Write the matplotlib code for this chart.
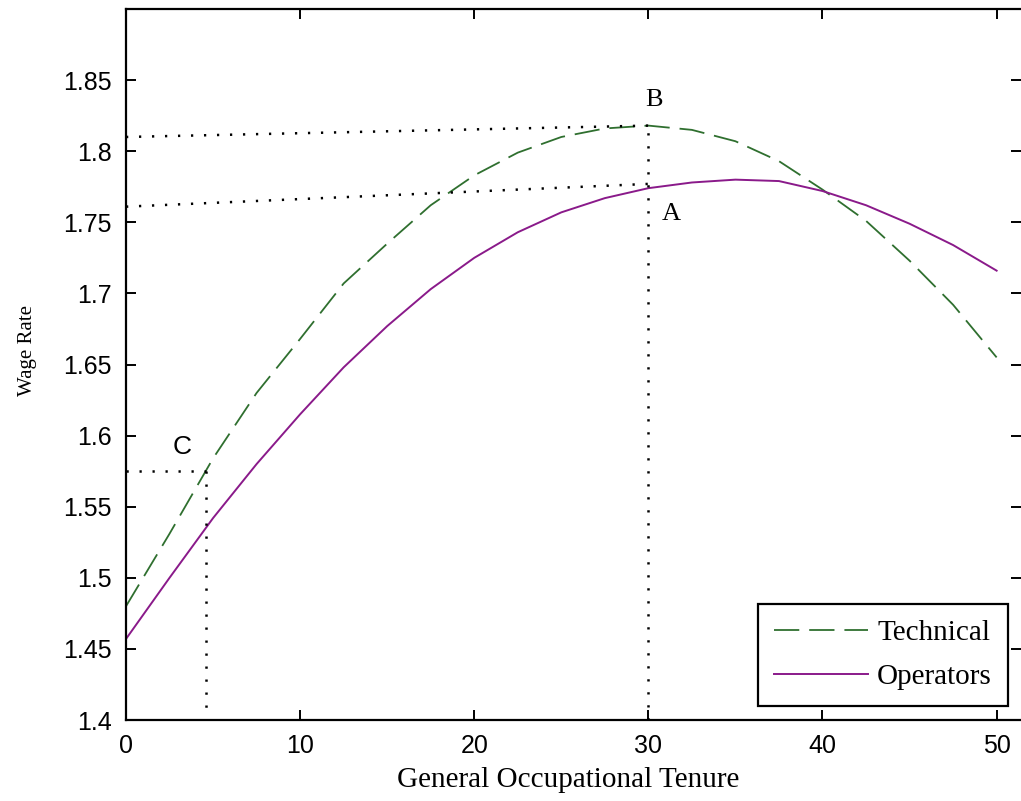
import numpy as np
import matplotlib
matplotlib.use("Agg")
from matplotlib import pyplot as plt

# values
tenure = [0, 2.5, 5, 7.5, 10, 12.5, 15, 17.5, 20, 22.5, 25,
          27.5, 30, 32.5, 35, 37.5, 40, 42.5, 45, 47.5, 50]
technical = [1.480, 1.531, 1.584, 1.630, 1.668, 1.707, 1.735, 1.762, 1.783, 1.799, 1.810,
             1.816, 1.818, 1.815, 1.807, 1.793, 1.773, 1.751, 1.723, 1.692, 1.655]
operators = [1.457, 1.500, 1.542, 1.580, 1.615, 1.648, 1.677, 1.703, 1.725, 1.743, 1.757,
             1.767, 1.774, 1.778, 1.780, 1.779, 1.772, 1.762, 1.749, 1.734, 1.716]

# dotted guide lines (x pairs, y pairs)
guide_b = ([0, 30], [1.810, 1.818])
guide_a = ([0, 30], [1.761, 1.777])
guide_30 = ([30, 30], [1.4, 1.818])
guide_c_h = ([0, 4.6], [1.575, 1.575])
guide_c_v = ([4.6, 4.6], [1.575, 1.403])

green = '#2f6f2f'
purple = '#8a1a8a'
serif = 'Liberation Serif'
sans = 'Liberation Sans'

fig = plt.figure(figsize=(10.21, 8.01), dpi=100)
ax = fig.add_axes([126/1021, 81/801, (1021-126)/1021, 711/801])

ax.plot(tenure, technical, color=green, lw=1.3, dashes=(14, 5.5), label='Technical')
ax.plot(tenure, operators, color=purple, lw=1.4, label='Operators')

for gx, gy in [guide_b, guide_a, guide_30, guide_c_h, guide_c_v]:
    ax.plot(gx, gy, color='black', lw=1.8, linestyle=(0, (0.9, 4.3)), clip_on=False)

ax.text(30.3, 1.836, 'B', fontsize=19, family=serif, ha='center', va='center')
ax.text(31.3, 1.756, 'A', fontsize=19, family=serif, ha='center', va='center')
ax.text(3.2, 1.592, 'C', fontsize=19, family=sans, ha='center', va='center')

ax.set_xlim(0, 51.4)
ax.set_ylim(1.4, 1.9)
ax.set_xticks([0, 10, 20, 30, 40, 50])
ax.set_yticks([1.4, 1.45, 1.5, 1.55, 1.6, 1.65, 1.7, 1.75, 1.8, 1.85])
ax.set_yticklabels(['1.4', '1.45', '1.5', '1.55', '1.6', '1.65', '1.7', '1.75', '1.8', '1.85'])
ax.tick_params(direction='in', length=7.2, width=1.4, top=True, right=True,
               labelsize=18)
ax.tick_params(axis='x', pad=10)
ax.tick_params(axis='y', pad=10)
for lab in ax.get_xticklabels() + ax.get_yticklabels():
    lab.set_family(sans)
for side in ['left', 'bottom', 'top']:
    ax.spines[side].set_linewidth(1.6)
ax.spines['right'].set_visible(False)

ax.set_xlabel('General Occupational Tenure', fontsize=21, family=serif)
ax.set_ylabel('Wage Rate', fontsize=15, family=serif)
ax.xaxis.set_label_coords(0.494, -0.066)
ax.yaxis.set_label_coords(-0.099, 0.519)

leg = ax.legend(loc='lower right', bbox_to_anchor=(0.9855, 0.0197), borderaxespad=0,
                fancybox=False, edgecolor='black', framealpha=1,
                prop={'family': serif, 'size': 21}, handlelength=3.25,
                handletextpad=0.3, borderpad=0.55, labelspacing=0.6)
leg.get_frame().set_linewidth(1.6)

fig.savefig('out.png', dpi=100)
